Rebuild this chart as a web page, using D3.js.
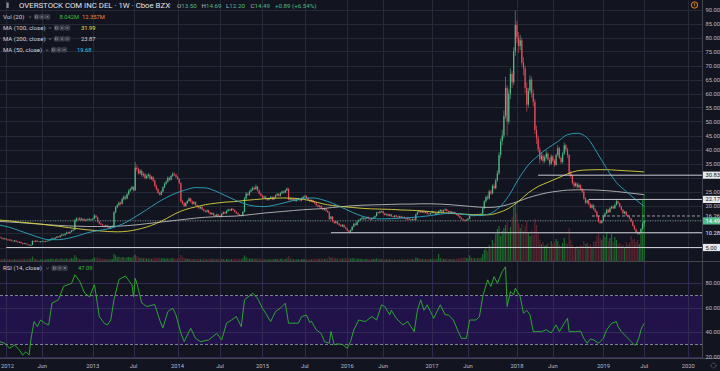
<!DOCTYPE html>
<html>
<head>
<meta charset="utf-8">
<script src="https://cdn.jsdelivr.net/npm/d3@7"></script>
<style>
  html, body { margin: 0; padding: 0; background: #121520; }
  svg { display: block; font-family: Roboto, "DejaVu Sans", sans-serif; }
</style>
</head>
<body>
<svg id="chart" width="720" height="371"></svg>
<script>
// weekly bars, first bar = week of 2011-12-05, last = week of 2019-07-01
const firstWeek = new Date(2011, 11, 5);
const firstOpen = 8.8;

const closes = [
  8.6, 8.3, 8.0, 8.2, 7.9, 7.6, 7.8, 7.4, 7.2, 7.5,
  7.1, 6.9, 7.0, 6.6, 6.3, 6.5, 6.2, 6.0, 5.8, 5.9,
  7.3, 7.1, 7.4, 7.2, 7.0, 7.1, 7.3, 7.0, 7.2, 7.4,
  7.6, 7.9, 8.3, 8.1, 8.5, 8.9, 8.7, 9.2, 9.6, 9.4,
  9.9, 10.4, 10.1, 10.6, 11.0, 11.3, 14.6, 15.3, 15.0, 15.4,
  14.8, 15.1, 14.7, 14.9, 15.2, 14.8, 15.0, 15.3, 16.4, 15.8,
  14.2, 13.6, 13.2, 12.8, 12.5, 12.9, 12.3, 12.0, 12.4, 12.6,
  17.6, 19.4, 20.1, 21.0, 20.6, 22.3, 23.1, 22.5, 24.0, 25.2,
  25.8, 26.6, 25.4, 33.5, 33.0, 31.5, 32.4, 30.8, 31.2, 29.8,
  30.5, 31.0, 29.6, 30.2, 28.9, 27.0, 25.8, 24.5, 23.9, 25.0,
  26.5, 27.8, 28.5, 29.9, 29.2, 30.6, 31.3, 31.0, 30.2, 29.5,
  28.0, 21.5, 20.8, 19.8, 20.9, 21.6, 22.5, 21.4, 20.6, 21.2,
  20.1, 19.6, 19.0, 19.5, 18.6, 18.1, 17.8, 18.3, 17.5, 16.9,
  17.3, 16.6, 16.2, 16.8, 16.4, 16.0, 17.0, 17.6, 17.2, 18.1,
  18.6, 18.2, 18.8, 18.4, 17.7, 17.2, 16.8, 16.5, 16.3, 17.8,
  22.5, 24.2, 23.8, 25.0, 25.6, 26.3, 25.9, 26.8, 25.4, 24.2,
  23.5, 22.8, 23.2, 22.4, 22.0, 22.6, 23.0, 22.2, 22.9, 23.6,
  24.1, 23.5, 24.4, 25.0, 24.6, 25.4, 26.0, 22.1, 22.5, 21.9,
  22.3, 21.6, 22.0, 22.4, 21.8, 22.6, 23.1, 23.4, 22.7, 22.0,
  21.5, 21.9, 21.2, 20.8, 20.1, 19.6, 19.9, 19.0, 18.5, 18.9,
  18.1, 17.6, 15.2, 16.0, 14.2, 13.8, 14.3, 13.5, 13.0, 12.6,
  13.1, 12.2, 11.8, 11.0, 10.6, 11.2, 12.4, 13.5, 13.0, 14.2,
  14.8, 15.2, 15.6, 15.1, 15.4, 15.8, 15.3, 15.0, 15.5, 15.7,
  16.2, 17.5, 17.3, 17.8, 17.9, 17.2, 16.6, 16.9, 16.3, 16.8,
  16.1, 15.9, 16.4, 16.0, 15.7, 16.2, 15.6, 15.9, 15.4, 15.1,
  15.5, 15.0, 14.8, 15.2, 14.9, 16.8, 17.6, 18.1, 17.5, 18.0,
  17.4, 17.8, 17.1, 16.9, 17.3, 17.8, 17.4, 16.8, 17.2, 17.9,
  18.4, 17.8, 18.3, 18.6, 18.0, 17.5, 17.9, 17.3, 17.6, 17.0,
  16.7, 16.2, 15.6, 15.1, 14.8, 14.6, 14.9, 15.3, 16.4, 16.6,
  16.3, 16.8, 16.5, 16.9, 16.6, 17.0, 19.0, 21.5, 23.0, 22.5,
  25.0, 24.3, 27.0, 26.2, 29.0, 31.5, 38.0, 43.0, 45.0, 52.0,
  62.0, 50.0, 60.0, 67.0, 64.0, 75.0, 84.5, 80.0, 77.0, 79.0,
  71.0, 69.0, 62.0, 56.0, 61.0, 65.0, 60.0, 57.0, 47.0, 44.0,
  40.0, 36.5, 37.8, 35.9, 37.2, 38.5, 36.3, 34.9, 37.5, 36.0,
  34.5, 38.0, 40.5, 37.0, 35.5, 38.5, 41.5, 40.0, 38.0, 31.5,
  30.5, 28.0, 27.0, 27.8, 26.5, 27.3, 25.9, 25.0, 22.5, 21.0,
  21.8, 20.4, 19.2, 20.1, 18.6, 17.8, 16.0, 14.2, 13.8, 14.5,
  16.0, 17.2, 18.5, 17.6, 19.0, 19.6, 19.0, 20.2, 21.5, 20.8,
  19.6, 18.5, 17.2, 17.8, 16.5, 16.0, 15.3, 14.3, 12.8, 11.5,
  10.4, 9.9, 10.3, 11.6, 13.6, 14.49
];

const highs = [
  9.1, 8.8, 8.5, 8.4, 8.3, 8.0, 7.9, 7.9, 7.5, 7.7,
  7.6, 7.3, 7.2, 7.1, 6.7, 6.7, 6.6, 6.3, 6.1, 6.1,
  7.6, 7.5, 7.6, 7.6, 7.3, 7.3, 7.5, 7.4, 7.4, 7.6,
  7.8, 8.1, 8.5, 8.5, 8.7, 9.1, 9.1, 9.4, 9.9, 9.8,
  10.1, 10.7, 10.6, 10.8, 11.3, 11.6, 15.2, 15.8, 15.6, 15.8,
  15.7, 15.4, 15.4, 15.2, 15.5, 15.5, 15.3, 15.6, 16.9, 16.7,
  16.0, 14.5, 13.9, 13.5, 13.0, 13.2, 13.1, 12.6, 12.7, 12.9,
  18.0, 19.8, 20.6, 21.5, 21.4, 22.8, 23.7, 23.5, 24.5, 25.8,
  26.3, 27.1, 27.0, 35.5, 34.5, 33.6, 33.0, 32.8, 31.9, 31.6,
  31.1, 31.6, 31.3, 30.6, 30.5, 29.2, 27.4, 26.2, 24.9, 25.4,
  26.9, 28.3, 29.0, 30.4, 30.3, 31.0, 32.0, 31.8, 31.4, 30.6,
  29.8, 28.2, 22.0, 21.2, 21.3, 22.0, 22.9, 22.8, 21.8, 21.6,
  21.5, 20.4, 19.9, 19.8, 19.7, 18.9, 18.4, 18.6, 18.5, 17.8,
  17.6, 17.5, 16.9, 17.1, 17.0, 16.6, 17.3, 17.9, 17.8, 18.4,
  18.9, 18.8, 19.1, 19.0, 18.6, 17.9, 17.5, 17.0, 16.8, 18.1,
  23.0, 24.8, 24.6, 25.4, 26.1, 26.9, 26.7, 27.5, 27.0, 25.7,
  24.6, 23.8, 23.6, 23.5, 22.7, 22.9, 23.4, 23.3, 23.2, 23.9,
  24.5, 24.4, 24.7, 25.3, 25.3, 25.7, 26.5, 26.2, 22.9, 22.8,
  22.6, 22.5, 22.3, 22.8, 22.7, 22.9, 23.4, 23.8, 23.6, 22.9,
  22.3, 22.2, 22.1, 21.5, 21.0, 20.4, 20.2, 20.1, 19.3, 19.2,
  19.1, 18.4, 17.8, 16.3, 16.2, 14.5, 14.6, 14.5, 13.8, 13.3,
  13.4, 13.3, 12.5, 12.0, 11.3, 11.5, 12.7, 13.8, 13.8, 14.5,
  15.1, 15.5, 15.9, 15.8, 15.7, 16.1, 16.0, 15.6, 15.8, 16.0,
  16.5, 17.8, 17.8, 18.1, 18.3, 18.1, 17.4, 17.1, 17.1, 17.0,
  17.0, 16.4, 16.6, 16.6, 16.2, 16.4, 16.4, 16.1, 16.1, 15.6,
  15.8, 15.7, 15.2, 15.4, 15.4, 17.1, 17.9, 18.4, 18.3, 18.3,
  18.2, 18.0, 18.0, 17.4, 17.5, 18.1, 18.0, 17.6, 17.4, 18.2,
  18.7, 18.6, 18.5, 19.0, 18.8, 18.2, 18.1, 18.1, 17.8, 17.8,
  17.2, 16.9, 16.4, 15.8, 15.3, 15.0, 15.1, 15.5, 16.6, 16.9,
  16.8, 17.0, 17.0, 17.1, 17.1, 17.3, 19.4, 21.9, 23.5, 23.8,
  25.6, 25.5, 27.6, 27.8, 29.6, 32.5, 39.0, 44.0, 47.0, 54.0,
  66.0, 63.0, 61.5, 69.0, 68.0, 76.5, 89.7, 86.0, 82.0, 81.0,
  80.0, 73.0, 70.0, 64.0, 62.0, 66.5, 66.0, 61.5, 58.0, 48.5,
  45.0, 41.0, 39.0, 38.5, 38.0, 39.6, 39.0, 37.0, 38.3, 38.0,
  36.6, 38.6, 41.5, 41.0, 37.6, 39.2, 42.5, 42.0, 40.6, 38.4,
  32.5, 31.0, 28.6, 28.4, 28.2, 27.9, 27.6, 26.3, 25.4, 23.0,
  22.17, 22.1, 20.8, 20.6, 20.4, 19.0, 18.1, 16.3, 14.7, 14.9,
  16.4, 17.6, 18.9, 18.8, 19.4, 20.0, 19.9, 20.6, 22.3, 21.7,
  21.0, 19.9, 18.7, 18.1, 18.0, 16.8, 16.2, 15.5, 14.5, 13.0,
  11.7, 10.8, 10.6, 11.9, 14.0, 14.69
];

const lows = [
  8.4, 8.1, 7.8, 7.8, 7.7, 7.4, 7.4, 7.2, 7.0, 7.0,
  6.9, 6.7, 6.7, 6.4, 6.1, 6.2, 6.0, 5.8, 5.5, 5.6,
  5.8, 6.9, 6.9, 7.0, 6.8, 6.8, 6.9, 6.8, 6.9, 7.0,
  7.2, 7.4, 7.8, 7.9, 8.0, 8.3, 8.5, 8.5, 9.0, 9.1,
  9.2, 9.7, 9.9, 9.9, 10.4, 10.8, 11.1, 14.2, 14.7, 14.7,
  14.5, 14.5, 14.4, 14.4, 14.7, 14.6, 14.6, 14.8, 15.1, 15.5,
  13.9, 13.3, 12.9, 12.5, 12.1, 12.2, 12.0, 11.7, 11.8, 12.1,
  12.4, 17.2, 19.0, 19.8, 20.1, 20.3, 21.9, 22.0, 22.2, 23.6,
  24.9, 25.5, 25.0, 25.2, 32.2, 31.0, 31.0, 30.3, 30.2, 29.3,
  29.4, 30.0, 29.2, 29.1, 28.5, 26.5, 25.4, 24.1, 23.5, 23.6,
  24.7, 26.2, 27.4, 28.2, 28.8, 28.9, 30.2, 30.6, 29.8, 29.1,
  27.6, 21.0, 20.3, 19.4, 19.5, 20.5, 21.3, 21.1, 20.2, 20.3,
  19.8, 19.3, 18.7, 18.8, 18.3, 17.8, 17.5, 17.5, 17.2, 16.6,
  16.6, 16.3, 15.9, 16.0, 16.1, 15.7, 15.8, 16.8, 16.9, 17.0,
  17.8, 18.0, 18.0, 18.2, 17.5, 17.0, 16.6, 16.2, 16.0, 16.1,
  17.6, 22.1, 23.4, 23.5, 24.6, 25.2, 25.5, 25.6, 25.0, 23.9,
  23.2, 22.5, 22.5, 22.1, 21.6, 21.8, 22.3, 21.9, 21.9, 22.6,
  23.3, 23.2, 23.2, 24.1, 24.2, 24.4, 25.1, 21.8, 21.8, 21.6,
  21.6, 21.3, 21.3, 21.8, 21.5, 21.5, 22.3, 22.8, 22.4, 21.7,
  21.2, 21.2, 20.9, 20.5, 19.8, 19.3, 19.3, 18.7, 18.2, 18.2,
  17.8, 17.3, 14.8, 15.0, 14.0, 13.5, 13.5, 13.2, 12.8, 12.3,
  12.3, 12.0, 11.5, 10.8, 10.28, 10.4, 11.0, 12.2, 12.8, 12.8,
  14.0, 14.6, 15.0, 14.9, 14.9, 15.2, 15.1, 14.8, 14.8, 15.3,
  15.5, 16.0, 17.0, 17.1, 17.5, 17.0, 16.4, 16.4, 16.1, 16.1,
  15.9, 15.7, 15.7, 15.8, 15.5, 15.5, 15.4, 15.4, 15.2, 14.9,
  14.9, 14.8, 14.6, 14.6, 14.7, 14.7, 16.6, 17.4, 17.3, 17.3,
  17.2, 17.2, 16.9, 16.7, 16.7, 17.1, 17.2, 16.6, 16.6, 17.0,
  17.7, 17.6, 17.6, 18.1, 17.8, 17.3, 17.3, 17.1, 17.1, 16.8,
  16.5, 16.0, 15.4, 14.9, 14.5, 14.3, 14.4, 14.7, 15.1, 16.2,
  16.1, 16.1, 16.3, 16.3, 16.4, 16.4, 16.8, 18.7, 21.0, 22.0,
  22.1, 23.8, 24.0, 25.6, 25.8, 28.5, 31.0, 37.0, 41.5, 44.0,
  51.0, 45.0, 49.0, 58.0, 62.0, 63.0, 73.5, 78.0, 74.5, 75.5,
  70.0, 66.5, 60.0, 53.5, 55.0, 60.0, 58.5, 55.5, 45.5, 42.0,
  39.0, 35.0, 36.0, 35.0, 35.2, 36.6, 35.8, 34.0, 34.5, 35.4,
  33.8, 34.2, 37.5, 36.5, 34.8, 35.0, 38.0, 39.2, 37.0, 30.5,
  29.8, 27.5, 26.2, 26.6, 26.0, 26.2, 25.5, 24.5, 22.0, 20.4,
  20.6, 20.1, 18.9, 18.9, 18.3, 17.5, 15.7, 13.9, 13.4, 13.5,
  14.3, 15.8, 17.0, 17.3, 17.4, 18.7, 18.7, 18.8, 20.0, 20.4,
  19.3, 18.2, 16.9, 16.9, 16.2, 15.7, 15.0, 14.0, 12.5, 11.2,
  10.1, 9.6, 9.6, 10.1, 11.4, 12.20
];

// weekly volume, millions
const volumes = [
  1.2, 1.0, 0.9, 1.1, 0.8, 1.0, 0.7, 0.9, 0.8, 1.0,
  0.9, 0.8, 0.7, 1.0, 1.2, 0.8, 0.9, 1.1, 1.3, 1.0,
  2.2, 1.3, 0.9, 0.8, 0.7, 0.8, 0.9, 0.7, 0.8, 0.9,
  1.0, 1.1, 1.2, 0.9, 1.0, 1.3, 0.9, 1.1, 1.2, 1.0,
  1.1, 1.3, 0.9, 1.2, 1.4, 1.2, 3.0, 1.8, 1.2, 1.0,
  0.9, 0.8, 1.0, 0.9, 0.8, 0.9, 1.0, 1.1, 1.8, 1.4,
  1.9, 1.3, 1.1, 1.0, 1.2, 0.9, 1.0, 1.1, 0.9, 1.0,
  3.6, 2.8, 1.9, 2.2, 1.6, 2.0, 1.8, 1.5, 1.9, 2.1,
  1.7, 1.9, 2.6, 3.2, 2.4, 1.8, 1.5, 1.6, 1.4, 1.5,
  1.3, 1.2, 1.4, 1.1, 1.3, 1.6, 1.5, 1.7, 1.4, 1.3,
  1.5, 1.3, 1.2, 1.4, 1.1, 1.3, 1.4, 1.2, 1.1, 1.3,
  1.5, 3.0, 1.9, 1.5, 1.2, 1.1, 1.0, 1.1, 0.9, 1.0,
  0.9, 1.0, 1.1, 0.9, 1.0, 1.2, 0.9, 0.8, 1.0, 1.1,
  1.0, 1.2, 1.1, 0.9, 1.0, 1.1, 1.0, 0.9, 0.8, 1.0,
  0.9, 0.8, 1.0, 0.9, 1.0, 1.1, 1.0, 1.2, 1.0, 1.3,
  2.8, 1.9, 1.3, 1.2, 1.1, 1.3, 1.0, 1.2, 1.1, 1.3,
  1.2, 1.0, 0.9, 1.1, 1.0, 0.9, 0.8, 1.0, 0.9, 1.0,
  1.1, 0.9, 1.0, 1.2, 0.9, 1.0, 1.3, 2.4, 1.3, 1.0,
  0.9, 1.0, 0.8, 0.9, 0.8, 1.0, 0.9, 1.1, 0.9, 0.8,
  0.9, 0.8, 1.0, 1.1, 1.0, 1.2, 0.9, 1.1, 1.2, 1.0,
  1.3, 1.2, 2.3, 1.6, 1.8, 1.4, 1.3, 1.2, 1.1, 1.3,
  1.2, 1.4, 1.3, 1.5, 1.6, 1.2, 1.4, 1.5, 1.1, 1.3,
  1.2, 1.0, 1.1, 0.9, 1.0, 1.1, 0.9, 0.8, 0.9, 1.0,
  1.1, 1.4, 1.0, 1.1, 0.9, 1.0, 0.9, 0.8, 0.9, 1.0,
  0.8, 0.9, 0.8, 0.9, 1.0, 0.8, 0.9, 0.8, 1.0, 0.9,
  0.9, 1.0, 1.1, 0.9, 0.8, 1.8, 1.4, 1.2, 1.0, 1.1,
  1.0, 0.9, 1.0, 1.1, 0.9, 1.0, 1.2, 1.0, 1.1, 3.6,
  1.5, 1.2, 1.1, 1.0, 1.2, 0.9, 1.0, 1.1, 0.9, 1.0,
  1.1, 1.3, 1.5, 1.4, 1.6, 1.8, 1.5, 1.4, 2.8, 1.6,
  1.4, 1.5, 1.3, 1.6, 1.4, 1.7, 3.5, 5.5, 6.2, 4.8,
  8.0, 7.2, 10.5, 9.0, 13.5, 16.0, 17.5, 12.5, 15.0, 16.5,
  18.0, 19.5, 14.5, 17.0, 22.0, 27.0, 29.0, 24.0, 19.0, 16.5,
  18.5, 15.0, 17.5, 20.0, 14.0, 12.5, 15.5, 13.0, 21.0, 18.0,
  14.0, 10.5, 8.5, 9.5, 7.5, 8.0, 9.0, 7.0, 10.0, 8.5,
  9.5, 11.0, 10.0, 8.0, 7.5, 9.0, 11.5, 9.0, 8.5, 16.5,
  10.5, 8.0, 7.0, 6.5, 7.5, 6.0, 8.0, 7.5, 10.0, 8.5,
  9.0, 7.5, 8.5, 7.0, 9.5, 10.0, 12.5, 14.0, 11.5, 10.5,
  13.0, 12.0, 14.5, 10.0, 11.5, 13.5, 9.5, 12.0, 10.5, 8.5,
  9.0, 7.5, 8.0, 7.0, 9.5, 8.0, 9.0, 12.5, 10.5, 11.0,
  9.5, 10.5, 8.5, 14.0, 31.0, 33.0
];

// moving averages read every 6 weeks (last point = last bar)
const maWeeks = d3.range(0, 391, 6).concat([395]);
const ma50 = [
  13.0, 12.2, 11.0, 9.8, 8.6, 7.8, 7.8, 8.3, 9.2, 10.3,
  11.0, 11.6, 12.6, 14.2, 16.3, 18.5, 20.8, 22.8, 24.4, 25.6,
  26.4, 26.3, 25.2, 23.6, 22.0, 20.6, 19.8, 19.6, 20.1, 20.9,
  21.8, 22.6, 22.7, 22.0, 20.8, 19.2, 17.6, 16.2, 15.4, 15.2,
  15.3, 15.5, 15.7, 16.0, 16.4, 16.9, 17.3, 17.0, 16.6, 16.4,
  17.0, 19.2, 23.5, 29.5, 34.5, 37.8, 40.5, 42.8, 45.3, 45.8,
  44.2, 39.0, 33.2, 28.2, 25.0, 22.0, 19.68
];
const ma100 = [
  14.8, 14.5, 14.1, 13.8, 13.4, 13.0, 12.6, 12.1, 11.7, 11.3,
  11.0, 10.7, 10.6, 10.8, 11.4, 12.3, 13.6, 15.3, 17.2, 18.6,
  19.5, 20.3, 20.8, 21.2, 21.4, 21.8, 22.1, 22.4, 22.6, 22.7,
  22.6, 22.2, 21.5, 20.6, 20.0, 19.6, 19.3, 19.0, 18.8, 18.7,
  18.6, 18.4, 18.3, 18.1, 17.8, 17.5, 17.2, 17.0, 16.8, 16.6,
  16.7, 17.5, 19.0, 21.5, 24.5, 26.8, 28.3, 29.8, 31.3, 32.4,
  32.7, 32.8, 32.8, 32.6, 32.4, 32.2, 31.99
];
const ma200 = [
  14.3, 14.1, 13.9, 13.6, 13.4, 13.1, 12.9, 12.7, 12.6, 12.5,
  12.5, 12.5, 12.6, 12.8, 13.1, 13.5, 13.9, 14.3, 14.7, 15.1,
  15.5, 15.8, 16.0, 16.1, 16.2, 16.5, 16.9, 17.3, 17.6, 17.9,
  18.2, 18.5, 18.7, 18.9, 19.3, 19.6, 19.9, 20.1, 20.2, 20.3,
  20.4, 20.5, 20.5, 20.6, 20.6, 20.5, 20.3, 20.0, 19.7, 19.4,
  19.3, 19.6, 20.4, 21.5, 22.8, 23.8, 24.6, 25.1, 25.5, 25.6,
  25.6, 25.5, 25.3, 25.0, 24.6, 24.2, 23.87
];

// RSI(14)
const rsiWeeks = [
  0, 3, 6, 9, 12, 14, 16, 18, 19, 21, 23, 25, 28, 30, 32, 36, 39, 44, 46, 49,
  52, 55, 58, 59, 61, 64, 66, 68, 70, 73, 77, 81, 82, 83, 84, 87, 90, 95, 98, 100,
  103, 106, 108, 111, 113, 117, 120, 123, 128, 133, 136, 139, 142, 145, 148, 150, 155, 158, 161, 163,
  166, 169, 172, 175, 177, 179, 183, 185, 188, 190, 191, 194, 197, 199, 202, 203, 205, 207, 210, 213,
  215, 217, 220, 224, 228, 231, 234, 236, 239, 240, 243, 247, 250, 254, 256, 258, 260, 262, 264, 266,
  270, 273, 275, 278, 281, 283, 286, 288, 292, 294, 296, 299, 301, 303, 305, 308, 310, 311, 313, 315,
  316, 319, 321, 323, 325, 327, 332, 335, 338, 341, 343, 346, 348, 349, 353, 356, 358, 360, 362, 364,
  367, 370, 372, 375, 378, 379, 381, 384, 387, 389, 390, 392, 393, 394, 395
];
const rsiValues = [
  32.3, 31, 26.9, 29.6, 25.5, 21.4, 24, 21.4, 33.7, 48.7, 44.6, 50, 47, 46, 63.8, 66.5, 77.4, 80, 87, 81.5,
  72, 69, 78.8, 70.6, 52.8, 47.4, 46, 50, 66.5, 83, 86, 78.8, 69, 84, 80, 64, 61, 62.6, 50, 43.5,
  56.9, 59.6, 54.1, 39.2, 32.3, 43.3, 35, 32.3, 33.7, 39, 33.7, 47.4, 50, 52.8, 44.6, 66.5, 72, 67.8, 59.6, 55.5,
  48.7, 56.9, 59.6, 63.7, 47.4, 47.4, 47.4, 52.8, 54, 48, 49, 41.9, 39, 32.3, 31, 40.6, 29.6, 30.5, 30, 26.9,
  32.3, 41.9, 50, 48.7, 52.8, 50, 62.4, 61, 54.2, 58, 51.4, 46, 48.7, 40.5, 58, 66.5, 58, 62.4, 56.9, 51.4,
  62.4, 54.2, 54.2, 50, 40.5, 35, 35, 50, 50, 52.8, 69, 82.8, 77.4, 85.5, 80, 89.7, 93.5, 61, 73.3, 70.6,
  76, 69, 55.5, 58, 54.2, 40.5, 40.5, 42, 39.4, 46, 40.5, 47.3, 51.4, 40.5, 40.5, 41, 35, 31, 34.5, 33.7,
  31, 35, 42, 47.3, 48.7, 44.6, 40.5, 36.4, 32.3, 29.6, 29.6, 36.4, 42, 45, 47.09
];

// horizontal levels drawn on the chart
const levelPrices = [30.83, 22.17, 16.26, 10.28, 5.00];
const levelStartWeeks = [330, 361, 363, 203, 4];
const levelStyles = ["solid", "solid", "dashed", "solid", "solid"];

const priceTicks = [20, 25, 35, 40, 45, 50, 55, 60, 65, 70, 75, 80, 85, 90];
const priceGrid = d3.range(5, 91, 5);
const rsiTicks = [20, 40, 60, 80];
const timeTickDates = ["2012-01-01", "2012-06-01", "2013-01-01", "2013-07-01", "2014-01-01", "2014-07-01",
  "2015-01-01", "2015-07-01", "2016-01-01", "2016-06-01", "2017-01-01", "2017-06-01", "2018-01-01",
  "2018-06-01", "2019-01-01", "2019-07-01", "2020-01-01"];
const timeTickLabels = ["2012", "Jun", "2013", "Jul", "2014", "Jul", "2015", "Jul", "2016", "Jun",
  "2017", "Jun", "2018", "Jun", "2019", "Jul", "2020"];

// header values of the last bar
const ohlcKeys = ["O", "H", "L", "C"];
const ohlcValues = ["13.50", "14.69", "12.20", "14.49"];
const changeText = "+0.89 (+6.54%)";

const colors = {
  bg: "#121520", grid: "#252a37", border: "#434651", text: "#b8bbc4",
  up: "#53b987", down: "#eb4d5c", volUp: "#1d6a2c", volDown: "#5b2431",
  ma50: "#2aa7c4", ma100: "#d8d23c", ma200: "#b9b9b9", rsi: "#2ab52a",
  rsiBand: "#21134a", level: "#c9cbd1"
};

const W = 720, H = 371;
const plotRight = 702;
const mainBottom = 261, rsiTop = 262, rsiBottom = 358;

const svg = d3.select("#chart");
const x = d3.scaleLinear().domain([0, closes.length - 1]).range([-0.2, 644.2]);
const y = d3.scaleLinear().domain([0, 90]).range([261.5, 9.5]);
const yVol = d3.scaleLinear().domain([0, 33]).range([261, 195]);
const yRsi = d3.scaleLinear().domain([20, 80]).range([356.7, 283.3]);

const weekMs = 7 * 24 * 3600 * 1000;
function barIndexOf(dateStr) {
  // first weekly bar whose date is on or after the tick date
  const t = new Date(dateStr + "T00:00:00").getTime();
  return Math.ceil((t - firstWeek.getTime()) / weekMs);
}

const bars = closes.map((c, i) => ({
  i, c, o: i === 0 ? firstOpen : closes[i - 1], h: highs[i], l: lows[i], v: volumes[i]
}));

svg.append("rect").attr("width", W).attr("height", H).attr("fill", colors.bg);

const defs = svg.append("defs");
defs.append("clipPath").attr("id", "clipMain")
  .append("rect").attr("x", 0).attr("y", 0).attr("width", plotRight).attr("height", mainBottom);
defs.append("clipPath").attr("id", "clipRsi")
  .append("rect").attr("x", 0).attr("y", rsiTop).attr("width", plotRight).attr("height", rsiBottom - rsiTop);

// grid
const grid = svg.append("g").attr("stroke", colors.grid).attr("stroke-width", 1);
timeTickDates.forEach(d => {
  const gx = Math.round(x(barIndexOf(d))) + 0.5;
  grid.append("line").attr("x1", gx).attr("x2", gx).attr("y1", 0).attr("y2", rsiBottom);
});
priceGrid.forEach(p => {
  const gy = Math.round(y(p)) + 0.5;
  grid.append("line").attr("x1", 0).attr("x2", plotRight).attr("y1", gy).attr("y2", gy);
});

// RSI band
const rsiG = svg.append("g").attr("clip-path", "url(#clipRsi)");
rsiG.append("rect").attr("x", 0).attr("width", plotRight)
  .attr("y", yRsi(70)).attr("height", yRsi(30) - yRsi(70)).attr("fill", colors.rsiBand);
rsiTicks.forEach(v => {
  const gy = Math.round(yRsi(v)) + 0.5;
  rsiG.append("line").attr("x1", 0).attr("x2", plotRight).attr("y1", gy).attr("y2", gy)
    .attr("stroke", "#33295a").attr("stroke-width", 1);
});
timeTickDates.forEach(d => {
  const gx = Math.round(x(barIndexOf(d))) + 0.5;
  rsiG.append("line").attr("x1", gx).attr("x2", gx).attr("y1", rsiTop).attr("y2", rsiBottom)
    .attr("stroke", "#302a52").attr("stroke-width", 1);
});
[70, 30].forEach(v => {
  rsiG.append("line").attr("x1", 0).attr("x2", plotRight).attr("y1", yRsi(v)).attr("y2", yRsi(v))
    .attr("stroke", "#9290a8").attr("stroke-width", 0.9).attr("stroke-dasharray", "3,2");
});
rsiG.append("path")
  .datum(rsiWeeks.map((w, k) => [w, rsiValues[k]]))
  .attr("fill", "none").attr("stroke", colors.rsi).attr("stroke-width", 0.9)
  .attr("d", d3.line().x(d => x(d[0])).y(d => yRsi(d[1])));

// main pane
const main = svg.append("g").attr("clip-path", "url(#clipMain)");

main.append("g").selectAll("rect").data(bars).join("rect")
  .attr("x", d => x(d.i) - 0.6).attr("width", 1.2)
  .attr("y", d => yVol(d.v)).attr("height", d => yVol(0) - yVol(d.v))
  .attr("fill", d => d.c >= d.o ? colors.volUp : colors.volDown);

// current price line
main.append("line").attr("x1", 0).attr("x2", plotRight)
  .attr("y1", y(closes[closes.length - 1])).attr("y2", y(closes[closes.length - 1]))
  .attr("stroke", "#8fb8a4").attr("stroke-width", 0.7).attr("stroke-dasharray", "1,1.5");

const candles = main.append("g");
candles.selectAll("line").data(bars).join("line")
  .attr("x1", d => x(d.i)).attr("x2", d => x(d.i))
  .attr("y1", d => y(d.h)).attr("y2", d => y(d.l))
  .attr("stroke", d => d.c >= d.o ? colors.up : colors.down).attr("stroke-width", 0.6);
candles.selectAll("rect").data(bars).join("rect")
  .attr("x", d => x(d.i) - 0.6).attr("width", 1.2)
  .attr("y", d => y(Math.max(d.o, d.c)))
  .attr("height", d => Math.max(0.6, Math.abs(y(d.o) - y(d.c))))
  .attr("fill", d => d.c >= d.o ? colors.up : colors.down);

const maLine = d3.line().x(d => x(d[0])).y(d => y(d[1])).curve(d3.curveMonotoneX);
[[ma200, colors.ma200], [ma100, colors.ma100], [ma50, colors.ma50]].forEach(([vals, col]) => {
  main.append("path").datum(maWeeks.map((w, k) => [w, vals[k]]))
    .attr("fill", "none").attr("stroke", col).attr("stroke-width", 0.9).attr("d", maLine);
});

levelPrices.forEach((p, k) => {
  main.append("line").attr("x1", x(levelStartWeeks[k])).attr("x2", plotRight)
    .attr("y1", y(p)).attr("y2", y(p))
    .attr("stroke", levelStyles[k] === "dashed" ? "#9598a1" : colors.level)
    .attr("stroke-width", 1)
    .attr("stroke-dasharray", levelStyles[k] === "dashed" ? "3,2" : null);
});

// borders
svg.append("line").attr("x1", plotRight + 0.5).attr("x2", plotRight + 0.5).attr("y1", 0).attr("y2", rsiBottom)
  .attr("stroke", colors.border);
svg.append("line").attr("x1", 0).attr("x2", W).attr("y1", mainBottom + 0.5).attr("y2", mainBottom + 0.5)
  .attr("stroke", colors.border);
svg.append("line").attr("x1", 0).attr("x2", W).attr("y1", rsiBottom + 0.5).attr("y2", rsiBottom + 0.5)
  .attr("stroke", colors.border);

// price axis
const axisFont = 5.8;
const axis = svg.append("g").attr("font-size", axisFont).attr("fill", colors.text);
priceTicks.forEach(p => {
  axis.append("text").attr("x", 705.5).attr("y", y(p)).attr("dy", "0.35em").text(p.toFixed(2));
});
rsiTicks.forEach(v => {
  axis.append("text").attr("x", 705.5).attr("y", yRsi(v)).attr("dy", "0.35em").text(v.toFixed(2));
});

function axisLabel(p, fill, textColor) {
  const g = svg.append("g");
  if (fill) {
    g.append("rect").attr("x", plotRight + 1).attr("y", y(p) - 3.6).attr("width", W - plotRight - 1).attr("height", 7.2)
      .attr("fill", fill);
  }
  g.append("text").attr("x", 705.5).attr("y", y(p)).attr("dy", "0.35em")
    .attr("font-size", axisFont).attr("fill", textColor).text(p.toFixed(2));
}
axisLabel(30.83, "#e6e7ea", "#131722");
axisLabel(22.17, "#e6e7ea", "#131722");
axisLabel(16.26, null, "#c9cbd1");
axisLabel(10.28, null, "#e6e7ea");
axisLabel(5.00, "#e6e7ea", "#131722");
axisLabel(closes[closes.length - 1], colors.up, "#ffffff");

// time axis
const tAxis = svg.append("g").attr("font-size", 5.8).attr("fill", colors.text).attr("text-anchor", "middle");
timeTickDates.forEach((d, k) => {
  const tx = Math.max(7.5, x(barIndexOf(d)));
  tAxis.append("text").attr("x", tx).attr("y", 367.5).text(timeTickLabels[k]);
});

// legend
function buttons(g, bx, by) {
  for (let k = 0; k < 3; k++) {
    g.append("rect").attr("x", bx + k * 5.4).attr("y", by - 2.3).attr("width", 4.4).attr("height", 4.4)
      .attr("rx", 0.6).attr("fill", "#2a2e39").attr("stroke", "#6a6d78").attr("stroke-width", 0.45);
  }
  g.append("rect").attr("x", bx + 1.2).attr("y", by - 1.1).attr("width", 2).attr("height", 2)
    .attr("fill", "none").attr("stroke", "#b0b3bb").attr("stroke-width", 0.45);
  g.append("circle").attr("cx", bx + 5.4 + 2.2).attr("cy", by - 0.1).attr("r", 0.9)
    .attr("fill", "none").attr("stroke", "#b0b3bb").attr("stroke-width", 0.45);
  g.append("path").attr("d", `M${bx + 11.9},${by - 1.2}l2,2M${bx + 13.9},${by - 1.2}l-2,2`)
    .attr("stroke", "#b0b3bb").attr("stroke-width", 0.5);
}
function chevron(g, cx, cy) {
  g.append("path").attr("d", `M${cx - 1.3},${cy - 0.6}L${cx},${cy + 0.6}L${cx + 1.3},${cy - 0.6}`)
    .attr("fill", "none").attr("stroke", "#b2b5be").attr("stroke-width", 0.5);
}

const legend = svg.append("g").attr("font-size", 6.1).attr("fill", "#cfd1d7");
// title row
legend.append("rect").attr("x", 6.5).attr("y", 2.5).attr("width", 2.2).attr("height", 5.5).attr("fill", "#8a8d96");
legend.append("text").attr("x", 19).attr("y", 8.3).attr("font-size", 7.8).attr("fill", "#e1e3e8")
  .text("OVERSTOCK COM INC DEL · 1W · Cboe BZX");
chevron(legend, 169.5, 5.2);
ohlcKeys.forEach((k, n) => {
  const t = legend.append("text").attr("x", 177 + n * 24.5).attr("y", 8.1).attr("font-size", 6.2);
  t.append("tspan").attr("fill", "#b2b5be").text(k);
  t.append("tspan").attr("fill", colors.up).text(ohlcValues[n]);
});
legend.append("text").attr("x", 275).attr("y", 8.1).attr("font-size", 6.2).attr("fill", colors.up).text(changeText);

const rows = [
  { name: "Vol (20)", y: 17, bx: 34.5, vals: [["8.042M", "#3fbf3f", 59.5], ["12.357M", "#f08a3c", 82]] },
  { name: "MA (100, close)", y: 28, bx: 54.5, vals: [["31.99", "#e5e23a", 81]] },
  { name: "MA (200, close)", y: 39, bx: 54.5, vals: [["23.87", "#d2d4d8", 81]] },
  { name: "MA (50, close)", y: 50, bx: 51.5, vals: [["19.68", "#2cc6e6", 77]] }
];
rows.forEach(r => {
  legend.append("text").attr("x", 3).attr("y", r.y + 2.2).text(r.name);
  chevron(legend, r.bx - 4.5, r.y);
  buttons(legend, r.bx, r.y);
  r.vals.forEach(([t, c, vx]) => legend.append("text").attr("x", vx).attr("y", r.y + 2.2)
    .attr("font-size", 5.8).attr("fill", c).text(t));
});
legend.append("text").attr("x", 3).attr("y", 270.4).text("RSI (14, close)");
chevron(legend, 47.5, 268.2);
buttons(legend, 52, 268.2);
legend.append("text").attr("x", 78).attr("y", 270.4).attr("font-size", 5.8).attr("fill", "#3fbf3f").text("47.09");

// top-right marker and bottom-right gear
svg.append("circle").attr("cx", 694.5).attr("cy", 5).attr("r", 3.2)
  .attr("fill", "#2a1e12").attr("stroke", "#f08c2a").attr("stroke-width", 0.9);
svg.append("line").attr("x1", 694.5).attr("x2", 694.5).attr("y1", 3.3).attr("y2", 5.6)
  .attr("stroke", "#f08c2a").attr("stroke-width", 0.8);
svg.append("circle").attr("cx", 713.5).attr("cy", 365.5).attr("r", 2.4)
  .attr("fill", "none").attr("stroke", "#8a8d96").attr("stroke-width", 0.7).attr("stroke-dasharray", "1,0.6");
</script>
</body>
</html>
